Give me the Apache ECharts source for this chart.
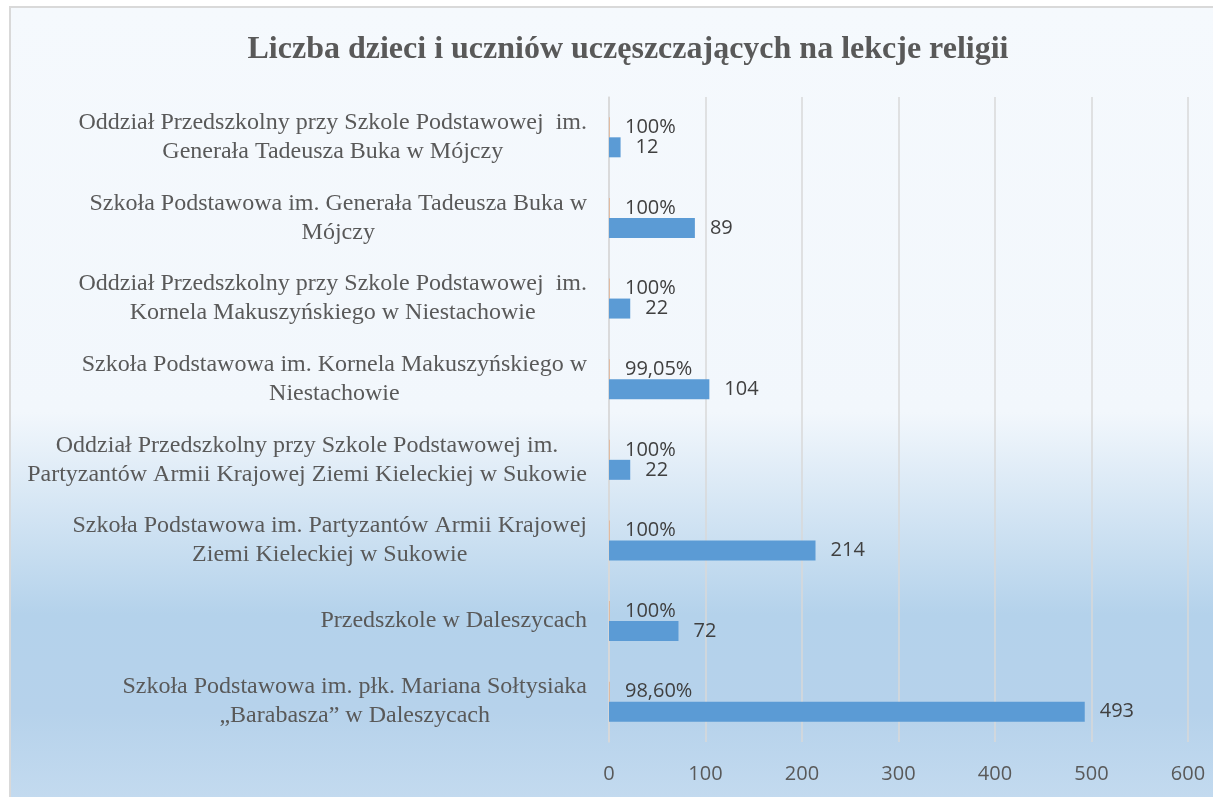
<!DOCTYPE html>
<html>
<head>
<meta charset="utf-8">
<script src="https://cdn.jsdelivr.net/npm/echarts@6/dist/echarts.min.js"></script>
<style>
  html, body { margin: 0; padding: 0; background: #ffffff; }
  #chart { width: 1213px; height: 797px; }
</style>
</head>
<body>
<div id="chart"></div>
<script>
// top-to-bottom, as in the picture
const schools = [
  ['Oddział Przedszkolny przy Szkole Podstawowej  im.', 'Generała Tadeusza Buka w Mójczy'],
  ['Szkoła Podstawowa im. Generała Tadeusza Buka w', 'Mójczy'],
  ['Oddział Przedszkolny przy Szkole Podstawowej  im.', 'Kornela Makuszyńskiego w Niestachowie'],
  ['Szkoła Podstawowa im. Kornela Makuszyńskiego w', 'Niestachowie'],
  ['Oddział Przedszkolny przy Szkole Podstawowej im.', 'Partyzantów Armii Krajowej Ziemi Kieleckiej w Sukowie'],
  ['Szkoła Podstawowa im. Partyzantów Armii Krajowej', 'Ziemi Kieleckiej w Sukowie'],
  ['Przedszkole w Daleszycach'],
  ['Szkoła Podstawowa im. płk. Mariana Sołtysiaka', '„Barabasza” w Daleszycach'],
];
const pupils = [12, 89, 22, 104, 22, 214, 72, 493];
const share = [1, 1, 1, 0.9905, 1, 1, 1, 0.986];
const xTicks = { min: 0, max: 600, step: 100 };

const TITLE = 'Liczba dzieci i uczniów uczęszczających na lekcje religii';
const SERIF = '"Liberation Serif", "DejaVu Serif", serif';
const SANS = '"Open Sans", "Liberation Sans", sans-serif';
const GRAY = '#595959';

function pct(v) {
  if (v === 1) return '100%';
  return (v * 100).toFixed(2).replace('.', ',') + '%';
}

const chart = echarts.init(document.getElementById('chart'), null, { renderer: 'canvas' });

chart.setOption({
  animation: false,
  graphic: [{
    type: 'rect',
    z: -10,
    silent: true,
    shape: { x: 10, y: 7, width: 1220, height: 810 },
    style: {
      fill: new echarts.graphic.LinearGradient(0, 0, 0, 1, [
        { offset: 0, color: '#f5f9fd' },
        { offset: 0.5, color: '#f2f7fc' },
        { offset: 0.75, color: '#b4d2eb' },
        { offset: 0.87, color: '#b6d2eb' },
        { offset: 1, color: '#c6dcf0' },
      ]),
      stroke: '#d9d9d9',
      lineWidth: 2,
    },
  }],
  title: {
    text: TITLE,
    left: 623,
    textAlign: 'center',
    top: 29,
    textStyle: { fontFamily: SERIF, fontWeight: 'bold', fontSize: 32, color: GRAY },
  },
  grid: { left: 609, right: 25, top: 97, bottom: 55, containLabel: false },
  xAxis: {
    type: 'value',
    min: xTicks.min,
    max: xTicks.max,
    interval: xTicks.step,
    axisLine: { show: false },
    axisTick: { show: false },
    axisLabel: { color: GRAY, fontFamily: SANS, fontSize: 20, margin: 22 },
    splitLine: { lineStyle: { color: '#d9d9d9', width: 1.5 } },
  },
  yAxis: {
    type: 'category',
    inverse: true,
    data: schools.map((s) => s.join('\n')),
    axisLine: { show: true, lineStyle: { color: '#d9d9d9', width: 1.5 } },
    axisTick: { show: false },
    axisLabel: {
      margin: 22,
      align: 'right',
      formatter: (v) => v.split('\n').map((l) => '{c|' + l + '}').join('\n'),
      rich: {
        c: { align: 'center', fontFamily: SERIF, fontSize: 24, lineHeight: 29, color: GRAY },
      },
    },
  },
  series: [
    {
      name: 'Odsetek',
      type: 'bar',
      data: share,
      barWidth: 20,
      barGap: '0%',
      itemStyle: { color: 'rgba(237,125,49,0.35)' },
      label: {
        show: true, position: 'right', distance: 15,
        fontFamily: SANS, fontSize: 20, color: '#404040',
        formatter: (p) => pct(p.value),
      },
    },
    {
      name: 'Liczba',
      type: 'bar',
      data: pupils,
      barWidth: 20,
      barGap: '0%',
      itemStyle: { color: '#5B9BD5' },
      label: {
        show: true, position: 'right', distance: 15,
        fontFamily: SANS, fontSize: 20, color: '#404040',
      },
    },
  ],
});
</script>
</body>
</html>
